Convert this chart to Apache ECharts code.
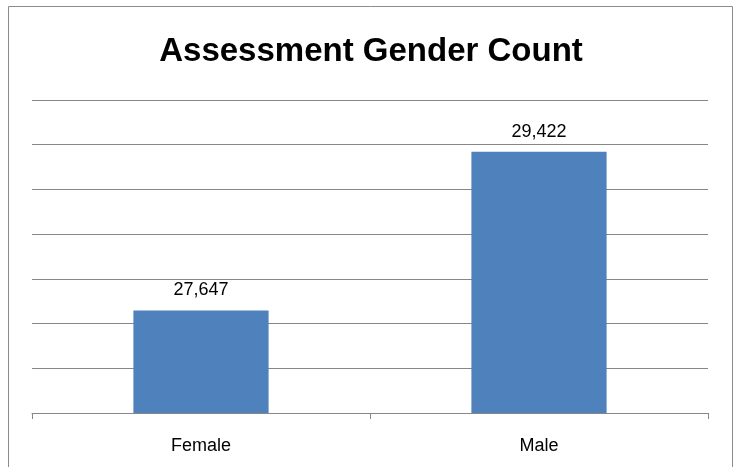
<!DOCTYPE html>
<html lang="en">

<head>
  <meta charset="UTF-8">
  <title>Assessment Gender Count</title>
  <style>
    html, body {
      margin: 0;
      width: 100%;
      height: 100%;
      background: #fff;
    }

    .chart {
      width: 742px;
      height: 467px;
    }
  </style>
</head>

<body>
  <div id="chart" class="chart"></div>

  <script src="https://cdn.jsdelivr.net/npm/echarts@6/dist/echarts.min.js"></script>
  <script>
    // data
    var categories = ['Female', 'Male'];
    var counts = [27647, 29422];

    var myChart = echarts.init(document.getElementById('chart'));

    var lineGray = '#878787';
    var font = '"Liberation Sans", Arial, sans-serif';

    var option = {
      backgroundColor: '#fff',
      animation: false,
      title: {
        text: 'Assessment Gender Count',
        left: 'center',
        top: 30,
        textStyle: {
          fontFamily: font,
          fontSize: 33,
          fontWeight: 'bold',
          color: '#000',
          lineHeight: 33
        }
      },
      // outer chart frame
      graphic: [{
        type: 'rect',
        shape: { x: 8.5, y: 6.5, width: 724, height: 480 },
        style: { fill: 'none', stroke: '#8c8c8c', lineWidth: 1 },
        silent: true
      }],
      grid: {
        left: 32,
        right: 34,
        top: 100,
        bottom: 54
      },
      xAxis: {
        type: 'category',
        data: categories,
        axisLine: { lineStyle: { color: lineGray, width: 1 } },
        axisTick: { show: true, length: 6, lineStyle: { color: lineGray } },
        axisLabel: {
          margin: 24,
          fontFamily: font,
          fontSize: 18,
          color: '#000'
        }
      },
      yAxis: {
        type: 'value',
        min: 26500,
        max: 30000,
        interval: 500,
        axisLine: { show: false },
        axisTick: { show: false },
        axisLabel: { show: false },
        splitLine: { lineStyle: { color: lineGray, width: 1 } }
      },
      series: [{
        type: 'bar',
        data: counts,
        barCategoryGap: '60%',
        itemStyle: { color: '#4F81BD' },
        label: {
          show: true,
          position: 'top',
          distance: 11,
          fontFamily: font,
          fontSize: 18,
          color: '#000',
          formatter: function (p) {
            return p.value.toLocaleString('en-US');
          }
        }
      }]
    };

    myChart.setOption(option);
  </script>
</body>

</html>
